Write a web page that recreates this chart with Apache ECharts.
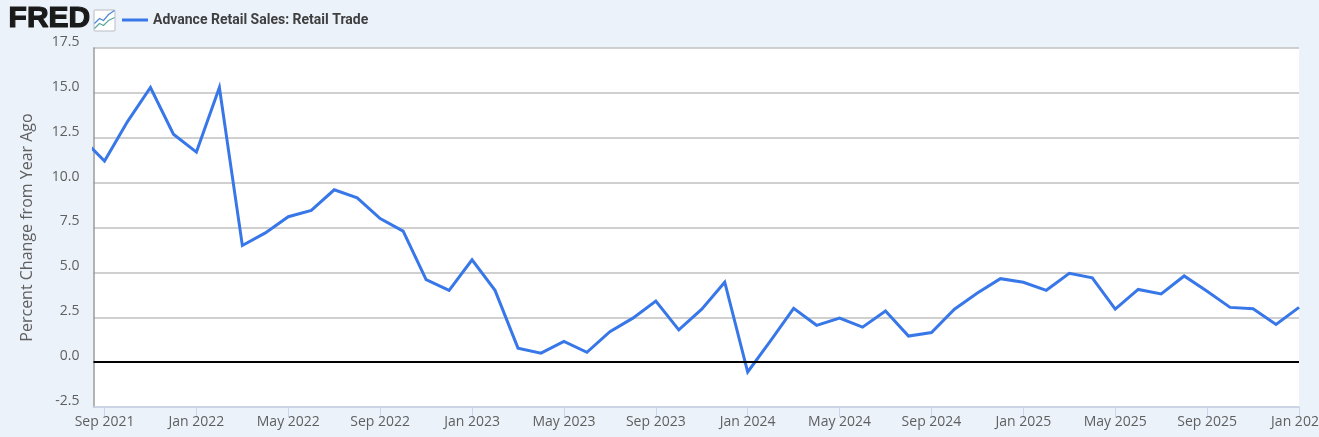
<!DOCTYPE html>
<html><head><meta charset="utf-8">
<style>html,body{margin:0;padding:0;background:#ebf2fa;overflow:hidden}#c{width:1319px;height:437px}</style>
<script src="https://cdn.jsdelivr.net/npm/echarts@6/dist/echarts.min.js"></script>
</head><body><div id="c"></div>
<script>
const seriesName = 'Advance Retail Sales: Retail Trade';
const yAxisName = 'Percent Change from Year Ago';
const firstMonth = [2021, 7]; // Aug 2021 (index 0)
const values = [12.5,11.2,13.4,15.3,12.7,11.7,15.3,6.5,7.2,8.1,8.45,9.6,9.15,8.0,7.3,4.6,4.0,5.7,4.0,0.78,0.5,1.15,0.55,1.7,2.45,3.4,1.8,2.95,4.45,-0.55,1.2,3.0,2.05,2.45,1.95,2.85,1.45,1.65,2.95,3.85,4.65,4.45,4.0,4.95,4.7,2.95,4.05,3.8,4.8,3.95,3.05,2.97,2.1,3.05];
const tickIndex = [1,5,9,13,17,21,25,29,33,37,41,45,49,53];
const tickLabels = ['Sep 2021','Jan 2022','May 2022','Sep 2022','Jan 2023','May 2023','Sep 2023','Jan 2024','May 2024','Sep 2024','Jan 2025','May 2025','Sep 2025','Jan 2026'];
const axisMin = 0.52, axisMax = 53;

const chart = echarts.init(document.getElementById('c'), null, {renderer:'canvas'});
chart.setOption({
  backgroundColor:'#ebf2fa',
  animation:false,
  legend:{
    left:117, top:8, itemWidth:26, itemHeight:3, itemGap:5,
    icon:'rect',
    textStyle:{fontFamily:'Roboto',fontWeight:'bold',fontSize:14,color:'#3f3f3f'},
    data:[seriesName]
  },
  grid:{left:93.5,right:20,top:48,bottom:30,backgroundColor:'#fff',show:true,borderWidth:0,outerBoundsMode:'none',containLabel:false},
  xAxis:{
    type:'value',min:axisMin,max:axisMax,
    splitLine:{show:false},
    axisLine:{show:true,onZero:false,lineStyle:{color:'#ccd6eb',width:1.5}},
    axisTick:{show:true,length:10,lineStyle:{color:'#ccd6eb',width:1},customValues:tickIndex},
    axisLabel:{
      customValues:tickIndex,
      formatter:v=>tickLabels[tickIndex.indexOf(v)],
      fontFamily:'Open Sans',fontSize:14,color:'#5f5f5f',margin:8,
      hideOverlap:false,showMinLabel:true,showMaxLabel:true
    }
  },
  yAxis:{
    type:'value',min:-2.5,max:17.5,interval:2.5,
    name:yAxisName,nameLocation:'middle',nameGap:58,nameRotate:90,
    nameTextStyle:{fontFamily:'Open Sans',fontSize:16,color:'#5f5f5f'},
    axisLine:{show:true,onZero:false,lineStyle:{color:'#9a9a9a',width:1.5}},
    axisTick:{show:false},
    splitLine:{show:true,lineStyle:{color:'#c0c0c0',width:1.5}},
    axisLabel:{
      formatter:v=>v.toFixed(1),
      fontFamily:'Open Sans',fontSize:14,color:'#5f5f5f',margin:14,
      verticalAlign:'bottom',lineHeight:14,padding:[0,0,-1,0]
    }
  },
  series:[{
    name:seriesName,type:'line',
    data:values.map((v,i)=>[i,v]),
    showSymbol:false,symbol:'none',clip:true,
    lineStyle:{color:'#3877e8',width:3,join:'miter'},
    itemStyle:{color:'#3877e8'},
    markLine:{silent:true,symbol:'none',label:{show:false},
      lineStyle:{color:'#000',width:2,type:'solid'},
      data:[{yAxis:0}],animation:false}
  }],
  graphic:[
    {type:'text',left:8,top:3,style:{text:'FRED',fontFamily:'Liberation Sans',fontWeight:'bold',fontSize:30,fill:'#1a1a1a',stroke:'#1a1a1a',lineWidth:1.2}},
    {type:'group',left:92,top:8,children:[
      {type:'rect',shape:{x:0.5,y:0.5,width:21,height:21,r:1},style:{fill:'#fff',stroke:'#b8bdc4',lineWidth:1}},
      {type:'polyline',shape:{points:[[1,14],[6,9],[10,11],[15,5],[21,1]]},style:{fill:'none',stroke:'#4a86d8',lineWidth:1.2}},
      {type:'polyline',shape:{points:[[1,19],[6,14],[10,16],[15,11],[21,8]]},style:{fill:'none',stroke:'#5aa89a',lineWidth:1.2}}
    ]}
  ]
});
</script></body></html>
